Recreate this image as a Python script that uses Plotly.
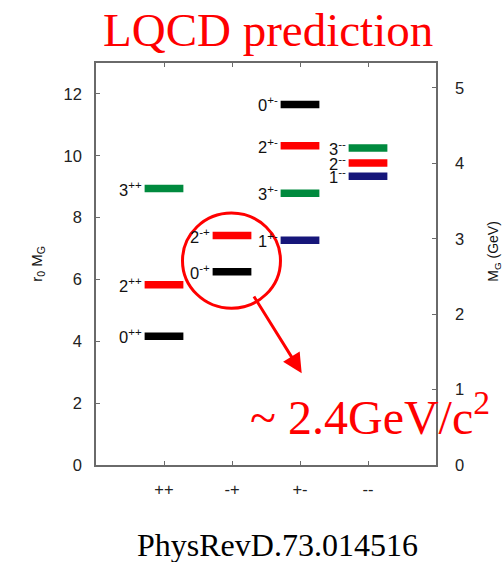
import plotly.graph_objects as go

# Glueball spectrum from quenched lattice QCD (r0 * M_G), grouped by PC
categories = ["++", "-+", "+-", "--"]
spin = [0, 2, 3, 0, 2, 1, 3, 2, 0, 1, 2, 3]
pc = ["++", "++", "++", "-+", "-+", "+-", "+-", "+-", "+-", "--", "--", "--"]
r0_mass = [4.16, 5.83, 8.94, 6.25, 7.42, 7.27, 8.79, 10.32, 11.66, 9.34, 9.77, 10.25]

# r0^-1 in GeV, used for the right-hand GeV axis
inv_r0_gev = 0.41
y_max = 13.0
gev_ticks = [0, 1, 2, 3, 4, 5]
r0_ticks = [0, 2, 4, 6, 8, 10, 12]

spin_colors = {0: "#000000", 1: "#16167a", 2: "#ff0000", 3: "#008a3e"}
half_width = 0.285
axis_grey = "#6a6a6a"
sans = "Liberation Sans, Arial, sans-serif"
serif = "Liberation Serif, Times New Roman, serif"

fig = go.Figure()

for j, p, m in zip(spin, pc, r0_mass):
    xc = categories.index(p) + 1
    fig.add_trace(go.Scatter(
        x=[xc - half_width, xc + half_width], y=[m, m],
        mode="lines", line=dict(color=spin_colors[j], width=7.5),
        hoverinfo="skip", showlegend=False,
    ))
    fig.add_annotation(
        x=xc - half_width, y=m, xref="x", yref="y",
        text=f"{j}<sup>{p}</sup>", showarrow=False,
        xanchor="right", yanchor="middle", xshift=-1,
        font=dict(family=sans, size=16.5, color="#111"),
    )

# invisible trace to activate the GeV axis
fig.add_trace(go.Scatter(x=[None], y=[None], yaxis="y2", showlegend=False, hoverinfo="skip"))

tick_font = dict(family=sans, size=16.5, color="#222")

fig.update_layout(
    width=503, height=562,
    margin=dict(l=96, r=67, t=63, b=97),
    paper_bgcolor="white", plot_bgcolor="white",
    xaxis=dict(
        range=[0, 5], tickvals=[1, 2, 3, 4], ticktext=categories,
        ticks="inside", ticklen=4, tickcolor=axis_grey,
        showline=True, linecolor=axis_grey, linewidth=1.5, mirror="ticks",
        showgrid=False, zeroline=False, ticklabelstandoff=8,
        tickfont=tick_font,
    ),
    yaxis=dict(
        range=[0, y_max], tickvals=r0_ticks,
        ticks="inside", ticklen=4, tickcolor=axis_grey,
        showline=True, linecolor=axis_grey, linewidth=1.5,
        showgrid=False, zeroline=False, ticklabelstandoff=9,
        tickfont=tick_font,
    ),
    yaxis2=dict(
        range=[0, y_max * inv_r0_gev], tickvals=gev_ticks,
        overlaying="y", side="right",
        ticks="inside", ticklen=4, tickcolor=axis_grey,
        showline=True, linecolor=axis_grey, linewidth=1.5,
        showgrid=False, zeroline=False, ticklabelstandoff=14,
        tickfont=tick_font,
    ),
)

# axis titles
fig.add_annotation(
    x=-0.173, y=0.501, xref="paper", yref="paper",
    text="r<sub>0</sub> M<sub>G</sub>", textangle=-90, showarrow=False,
    xanchor="center", yanchor="middle",
    font=dict(family=sans, size=15, color="#111"),
)
fig.add_annotation(
    x=1.168, y=0.531, xref="paper", yref="paper",
    text="M<sub>G</sub> (GeV)", textangle=-90, showarrow=False,
    xanchor="center", yanchor="middle",
    font=dict(family=sans, size=14, color="#111"),
)

# heading and reference
fig.add_annotation(
    x=0.507, y=1.082, xref="paper", yref="paper",
    text="LQCD prediction", showarrow=False,
    xanchor="center", yanchor="middle",
    font=dict(family=serif, size=47, color="#ff0000"),
)
fig.add_annotation(
    x=0.535, y=-0.2, xref="paper", yref="paper",
    text="PhysRevD.73.014516", showarrow=False,
    xanchor="center", yanchor="middle",
    font=dict(family=serif, size=32, color="#000000"),
)

# highlight of the 0-+ state
fig.add_shape(
    type="circle", xref="x", yref="y",
    x0=1.272, x1=2.713, y0=5.07, y1=8.146,
    line=dict(color="#ff0000", width=3),
)
fig.add_annotation(
    x=3.025, y=2.97, ax=2.309, ay=5.50, xref="x", yref="y", axref="x", ayref="y",
    text="", showarrow=True, arrowhead=2, arrowsize=1.3, arrowwidth=3,
    arrowcolor="#ff0000",
)
fig.add_annotation(
    x=0.447, y=0.128, xref="paper", yref="paper",
    text="~ 2.4GeV/c<sup>2</sup>", showarrow=False,
    xanchor="left", yanchor="middle",
    font=dict(family=serif, size=48, color="#ff0000"),
)

fig.write_html("out.html")
